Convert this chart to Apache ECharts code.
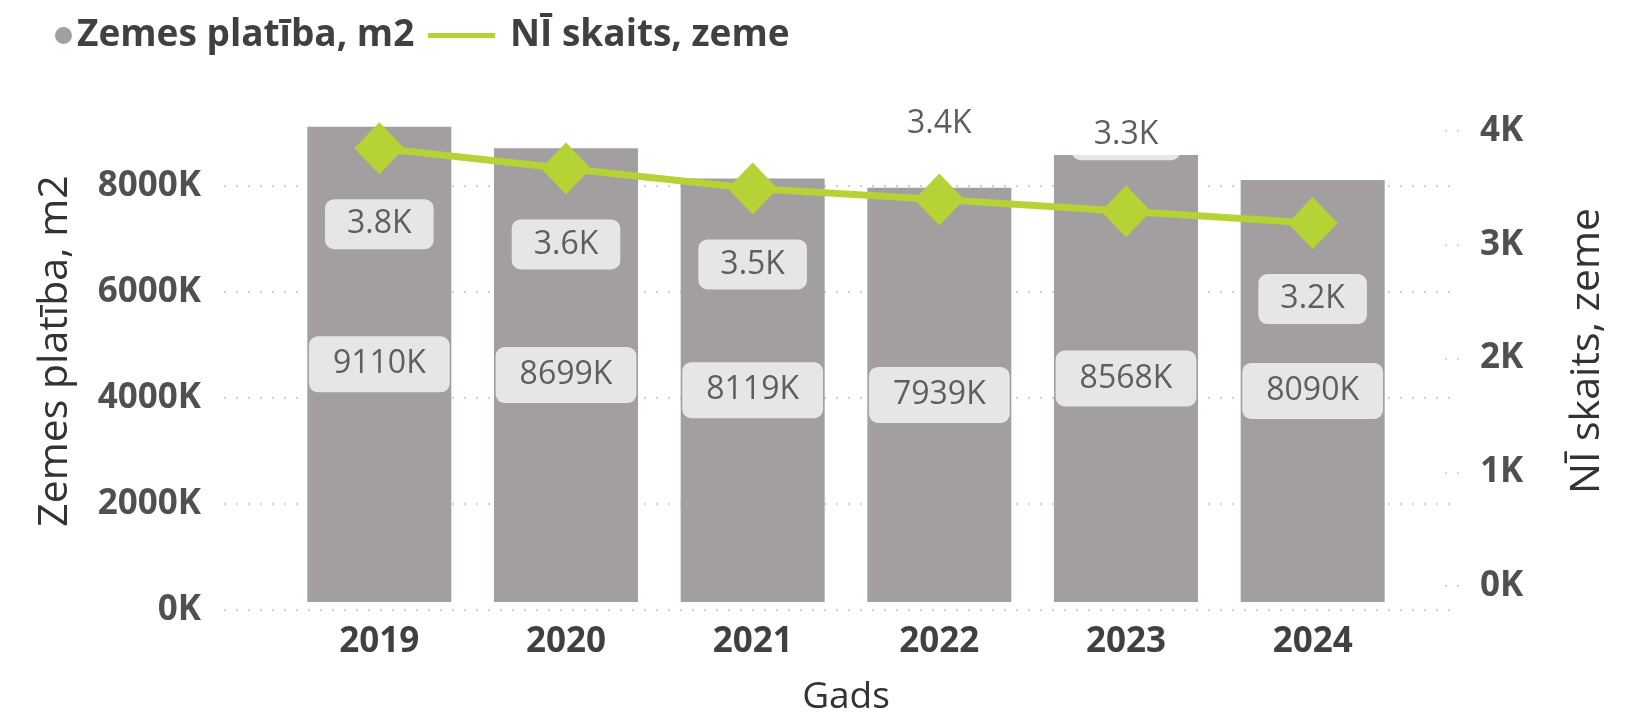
<!DOCTYPE html>
<html>
<head>
<meta charset="utf-8">
<script src="https://cdn.jsdelivr.net/npm/echarts@6/dist/echarts.min.js"></script>
<style>
  html, body { margin: 0; padding: 0; background: #ffffff; }
  #chart { width: 1637px; height: 721px; }
</style>
</head>
<body>
<div id="chart"></div>
<script>
// Land area per year (m2) and number of land properties
const years = ['2019', '2020', '2021', '2022', '2023', '2024'];
const landArea = [9110000, 8699000, 8119000, 7939000, 8568000, 8090000];
const propertyCount = [3810, 3640, 3472, 3380, 3281, 3182];
const countLabelSide = ['bottom', 'bottom', 'bottom', 'top', 'top', 'bottom'];
const areaTicks = [0, 2000000, 4000000, 6000000, 8000000];
const countTicks = [0, 1000, 2000, 3000, 4000];

const AREA_NAME = 'Zemes platība, m2';
const COUNT_NAME = 'NĪ skaits, zeme';
const FONT = '"Open Sans", "Noto Sans", sans-serif';

// Plot geometry (pixels)
const W = 1637, H = 721;
const plotTop = 100, plotBottom = 610;
const areaPxPer2M = 106;      // px per 2 000 000 m2
const countPxPer1K = 121;     // px per 1 000 properties
const areaMax = (plotBottom - plotTop) / areaPxPer2M * 2000000;
const countMax = (plotBottom - plotTop) / countPxPer1K * 1000;

const kFmt = v => Math.round(v / 1000) + 'K';
const kFmt1 = v => (v / 1000).toFixed(1) + 'K';

const boxLabel = {
  color: '#605E5C',
  fontFamily: FONT,
  fontSize: 32,
  backgroundColor: 'rgba(255,255,255,0.74)',
  borderRadius: 9
};
const tickLabel = { fontFamily: FONT, fontWeight: 'bold', fontSize: 35, color: '#505050' };
const titleText = { fontFamily: FONT, fontSize: 41, color: '#333333' };
const legendText = { fontFamily: FONT, fontWeight: 'bold', fontSize: 37, color: '#404040' };

const chart = echarts.init(document.getElementById('chart'), null, { renderer: 'canvas' });

chart.setOption({
  animation: false,
  backgroundColor: '#ffffff',
  legend: [
    {
      data: [AREA_NAME],
      left: 50, top: 12,
      icon: 'circle', itemWidth: 17, itemHeight: 17, itemGap: 0,
      textStyle: legendText
    },
    {
      data: [{ name: COUNT_NAME, icon: 'rect' }],
      left: 423, top: 12,
      itemWidth: 67, itemHeight: 5,
      textStyle: Object.assign({ padding: [0, 0, 0, 10] }, legendText)
    }
  ],
  grid: [
    // bars and line
    { left: 286, right: W - 1406, top: plotTop, bottom: H - plotBottom },
    // left value axis with dotted grid lines
    { left: 224, right: W - 1456, top: plotBottom - 4 * areaPxPer2M, bottom: H - plotBottom },
    // right value axis ticks
    { left: 1445, right: W - 1462, top: 131, bottom: H - 586 }
  ],
  xAxis: [
    {
      gridIndex: 0, type: 'category', data: years,
      axisLine: { show: false }, axisTick: { show: false },
      axisLabel: { margin: 23, color: '#404040', fontFamily: FONT, fontWeight: 'bold', fontSize: 35 },
      name: 'Gads', nameLocation: 'middle', nameGap: 77,
      nameTextStyle: Object.assign({}, titleText, { fontSize: 37 })
    },
    { gridIndex: 1, type: 'value', show: false },
    { gridIndex: 2, type: 'value', show: false }
  ],
  yAxis: [
    {
      gridIndex: 0, type: 'value', min: 0, max: areaMax,
      axisLine: { show: false }, axisTick: { show: false },
      axisLabel: { show: false }, splitLine: { show: false },
      name: AREA_NAME, nameLocation: 'middle', nameGap: 210, nameRotate: 90,
      nameTextStyle: titleText
    },
    {
      gridIndex: 0, type: 'value', position: 'right', min: 0, max: countMax,
      axisLine: { show: false }, axisTick: { show: false },
      axisLabel: { show: false }, splitLine: { show: false },
      name: COUNT_NAME, nameLocation: 'middle', nameGap: 161, nameRotate: 90,
      nameTextStyle: titleText
    },
    {
      gridIndex: 1, type: 'value', min: areaTicks[0], max: areaTicks[areaTicks.length - 1],
      interval: areaTicks[1] - areaTicks[0],
      axisLine: { show: false }, axisTick: { show: false },
      axisLabel: Object.assign({ margin: 23, formatter: kFmt }, tickLabel),
      splitLine: { show: true, lineStyle: { color: '#cfcfcf', width: 2, type: [2, 10] } }
    },
    {
      gridIndex: 2, type: 'value', position: 'right', min: countTicks[0], max: countTicks[countTicks.length - 1],
      interval: countTicks[1] - countTicks[0],
      axisLine: { show: false }, axisTick: { show: false },
      axisLabel: Object.assign({ margin: 18, formatter: kFmt }, tickLabel),
      splitLine: { show: true, lineStyle: { color: '#d4d4d4', width: 2, type: [2, 10] } }
    }
  ],
  series: [
    {
      name: AREA_NAME, type: 'bar', xAxisIndex: 0, yAxisIndex: 0,
      data: landArea, barWidth: 144,
      itemStyle: { color: '#A39E9F' },
      label: Object.assign({ show: true, position: 'inside', formatter: p => kFmt(p.value), padding: [12, 24] }, boxLabel)
    },
    {
      name: COUNT_NAME, type: 'line', xAxisIndex: 0, yAxisIndex: 1,
      data: propertyCount.map((v, i) => ({ value: v, label: { position: countLabelSide[i] } })),
      symbol: 'diamond', symbolSize: [50, 52],
      lineStyle: { color: '#B5D334', width: 7 },
      itemStyle: { color: '#B5D334' },
      label: Object.assign({ show: true, distance: 25, formatter: p => kFmt1(p.value), padding: [9, 22] }, boxLabel),
      z: 3
    }
  ]
});
</script>
</body>
</html>
